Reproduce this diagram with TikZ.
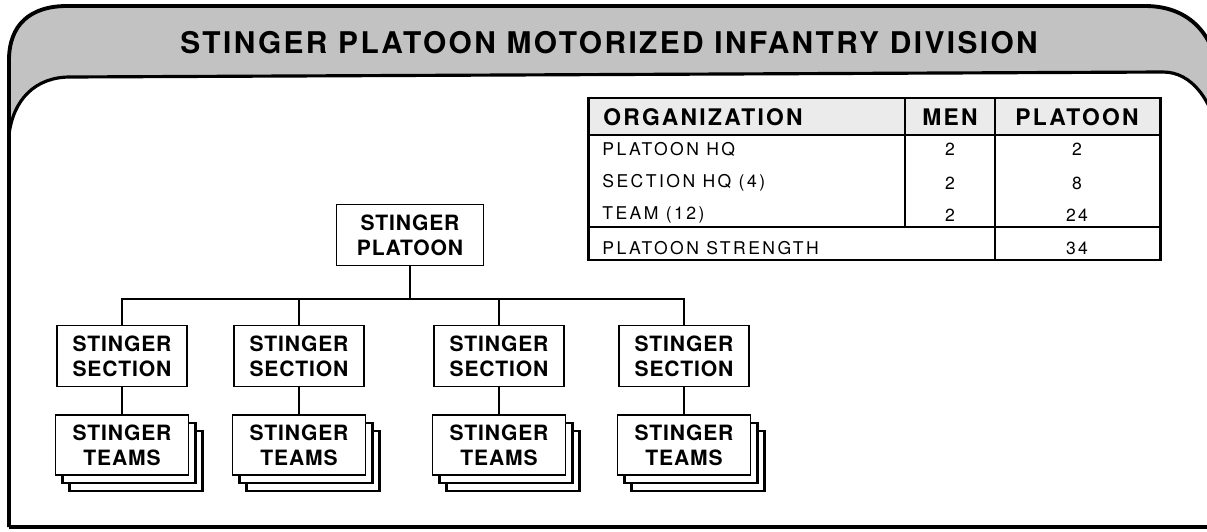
\documentclass[tikz,border=0pt]{standalone}
\usepackage{fontspec}
\setmainfont{TeX Gyre Heros}
\usetikzlibrary{shadows}
\newcommand{\titlefont}{\fontsize{17}{20}\selectfont\bfseries\addfontfeature{LetterSpace=8}}
\newcommand{\orgfont}{\fontsize{12}{14.2}\selectfont\bfseries\addfontfeature{LetterSpace=4}}
\newcommand{\headfont}{\fontsize{13}{15}\selectfont\bfseries\addfontfeature{LetterSpace=10}}
\newcommand{\cellfont}{\fontsize{10}{12}\selectfont\addfontfeature{LetterSpace=14}}

\begin{document}
\begin{tikzpicture}[x=0.02cm, y=-0.02cm,
    unit/.style={draw, line width=1.1pt, fill=white, minimum width=2.6cm, minimum height=1.22cm, inner sep=0pt, align=center, font=\orgfont},
    teams/.style={unit, minimum width=2.66cm, minimum height=1.2cm,
        general shadow={shadow xshift=0.28cm, shadow yshift=-0.32cm, draw, fill=white, line width=1.4pt},
        general shadow={shadow xshift=0.14cm, shadow yshift=-0.16cm, draw, fill=white, line width=1.4pt}},
    cell/.style={inner sep=0pt, font=\cellfont},
    head/.style={inner sep=0pt, font=\headfont},
    frame/.style={line width=2.2pt, line join=round}]
    \useasboundingbox (0,0) rectangle (1207,531);
    \clip (0,0) rectangle (1207,531);

    % banner and frame
    \fill[black!24] (9,135) -- (9,60) .. controls (9,25) and (30,6) .. (67,6) -- (1145,6)
        .. controls (1190,6) and (1215,35) .. (1220,80) -- (1220,140)
        .. controls (1212,100) and (1192,72) .. (1163,72) -- (70,77)
        .. controls (35,77) and (13,100) .. (9,135) -- cycle;
    \draw[frame] (9,527) -- (9,60) .. controls (9,25) and (30,6) .. (67,6) -- (1145,6)
        .. controls (1190,6) and (1215,35) .. (1220,80);
    \draw[frame, line width=1.8pt] (9,135) .. controls (13,100) and (35,77) .. (70,77) -- (1163,72)
        .. controls (1192,72) and (1212,100) .. (1220,140);
    \draw[frame] (9,527) -- (1207,527);
    \node[font=\titlefont] (title) at (609,43) {STINGER PLATOON MOTORIZED INFANTRY DIVISION};

    % strength table
    \fill[black!8] (588,98) rectangle (1160,135);
    \draw[line width=1.1pt] (588,135) -- (1160,135) (588,227) -- (1160,227)
        (905,98) -- (905,227) (995,98) -- (995,260);
    \draw[line width=1.7pt] (588,98) rectangle (1160,260);
    \node[head, anchor=west] (h-org) at (603,117) {ORGANIZATION};
    \node[head] (h-men) at (950,117) {MEN};
    \node[head] (h-plt) at (1077,117) {PLATOON};
    \foreach \lbl/\men/\plt/\y [count=\i] in {PLATOON HQ/2/2/149, SECTION HQ (4)/2/8/183, TEAM (12)/2/24/215} {
        \node[cell, anchor=west] (org-\i) at (602,\y) {\lbl};
        \node[cell] (men-\i) at (950,\y) {\men};
        \node[cell] (plt-\i) at (1077,\y) {\plt};
    }
    \node[cell, anchor=west] (strength) at (602,248) {PLATOON STRENGTH};
    \node[cell] (total) at (1077,248) {34};

    % organization chart
    \node[unit, minimum width=2.94cm] (plat) at (410,235) {STINGER\\PLATOON};
    \foreach \x [count=\i] in {122,299,499,684} {
        \node[unit] (sec-\i) at (\x,356) {STINGER\\SECTION};
        \node[teams] (team-\i) at (\x,445) {STINGER\\TEAMS};
    }
    \begin{scope}[line width=1.1pt]
        \draw (plat.south) -- ++(0,33) coordinate (bus);
        \draw (sec-1.north) |- (bus) -| (sec-4.north);
        \foreach \i in {2,3} \draw (sec-\i.north) -- (sec-\i.north |- bus);
        \foreach \i in {1,...,4} \draw (sec-\i) -- (team-\i);
    \end{scope}
\end{tikzpicture}
\end{document}
